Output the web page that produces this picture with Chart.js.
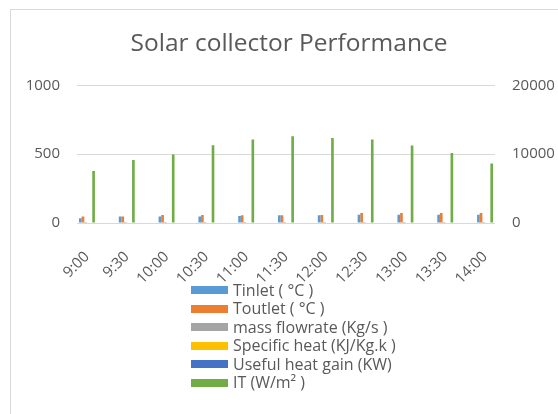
<!DOCTYPE html>
<html><head><meta charset="utf-8">
<script src="https://cdn.jsdelivr.net/npm/chart.js@4/dist/chart.umd.min.js"></script>
<style>html,body{margin:0;padding:0;background:#fff;overflow:hidden}</style>
</head><body>
<canvas id="c" width="558" height="414"></canvas>
<script>
const timeLabels = ['9:00','9:30','10:00','10:30','11:00','11:30','12:00','12:30','13:00','13:30','14:00'];
const tinlet = [34, 48, 48, 48, 50, 56, 56, 60, 60, 60, 60];
const toutlet = [48, 48, 58, 58, 56, 56, 58, 72, 72, 72, 72];
const massFlow = [0.02, 0.02, 0.02, 0.02, 0.02, 0.02, 0.02, 0.02, 0.02, 0.02, 0.02];
const specificHeat = [4.18, 4.18, 4.18, 4.18, 4.18, 4.18, 4.18, 4.18, 4.18, 4.18, 4.18];
const usefulHeat = [1.1, 0.0, 0.8, 0.8, 0.5, 0.0, 0.2, 1.0, 1.0, 1.0, 1.0];
const irradiance = [377, 457, 498, 565, 607, 630, 618, 607, 563, 509, 433];
const leftTicks = [0, 500, 1000];
const rightTicks = [0, 10000, 20000];

const seriesNames = ['Tinlet ( °C )','Toutlet ( °C )','mass flowrate (Kg/s )','Specific heat (KJ/Kg.k )','Useful heat gain (KW)','IT (W/m² )'];
const seriesColors = ['#5B9BD5','#ED7D31','#A5A5A5','#FFC000','#4472C4','#70AD47'];
const seriesData = [tinlet, toutlet, massFlow, specificHeat, usefulHeat, irradiance];
const seriesAxis = ['y','y','y','y1','y1','y'];

const FONT = 'Open Sans';
const TXT = '#595959';

const frame = {
  id: 'frame',
  beforeDraw(chart) {
    const ctx = chart.ctx;
    ctx.save();
    ctx.fillStyle = '#fff';
    ctx.fillRect(0, 0, chart.width, chart.height);
    ctx.strokeStyle = '#d9d9d9';
    ctx.lineWidth = 1;
    ctx.strokeRect(10.5, 9.5, 700, 600);
    ctx.restore();
  }
};

const vlegend = {
  id: 'vlegend',
  afterDraw(chart) {
    const ctx = chart.ctx;
    ctx.save();
    ctx.font = '16px "' + FONT + '"';
    ctx.textBaseline = 'middle';
    ctx.textAlign = 'left';
    chart.data.datasets.forEach((ds, i) => {
      const cy = 290 + i * 18.5;
      ctx.fillStyle = ds.backgroundColor;
      ctx.fillRect(191, Math.round(cy - 4), 37, 8);
      ctx.fillStyle = TXT;
      ctx.fillText(ds.label, 233, cy + 1);
    });
    ctx.restore();
  }
};

const datasets = seriesNames.map((name, k) => ({
  label: name,
  data: seriesData[k].map((v, i) => ({x: i, y: v})),
  backgroundColor: seriesColors[k],
  borderWidth: 0,
  yAxisID: seriesAxis[k],
  categoryPercentage: 0.4,
  barPercentage: 1.0
}));

new Chart(document.getElementById('c'), {
  type: 'bar',
  data: { datasets },
  plugins: [frame, vlegend],
  options: {
    responsive: false,
    animation: false,
    layout: { padding: { left: 20, right: 0, top: 0, bottom: 121 } },
    plugins: {
      legend: { display: false },
      tooltip: { enabled: false },
      title: {
        display: true,
        text: 'Solar collector Performance',
        color: TXT,
        font: { family: FONT, size: 24.5, weight: 'normal' },
        padding: { top: 29, bottom: 27 }
      }
    },
    scales: {
      x: {
        type: 'linear',
        min: -0.25,
        max: 10.25,
        offset: false,
        grid: { display: false },
        border: { display: false },
        afterBuildTicks: s => { s.ticks = timeLabels.map((_, i) => ({ value: i })); },
        afterFit: s => { s.height = 70; },
        ticks: {
          autoSkip: false,
          minRotation: 45,
          maxRotation: 45,
          padding: 17,
          color: TXT,
          font: { family: FONT, size: 15 },
          callback: v => timeLabels[v]
        }
      },
      y: {
        position: 'left',
        min: 0,
        max: 1000,
        afterBuildTicks: s => { s.ticks = leftTicks.map(v => ({ value: v })); },
        afterFit: s => { s.width = 57; },
        grid: { color: '#d9d9d9', lineWidth: 1, drawTicks: false },
        border: { display: false },
        ticks: { padding: 17, color: TXT, font: { family: FONT, size: 15 }, callback: v => String(v) }
      },
      y1: {
        position: 'right',
        min: 0,
        max: 20000,
        afterBuildTicks: s => { s.ticks = rightTicks.map(v => ({ value: v })); },
        afterFit: s => { s.width = 63; },
        grid: { display: false, drawTicks: false },
        border: { display: false },
        ticks: { padding: 17, color: TXT, font: { family: FONT, size: 15 }, callback: v => String(v) }
      }
    }
  }
});
</script>
</body></html>
